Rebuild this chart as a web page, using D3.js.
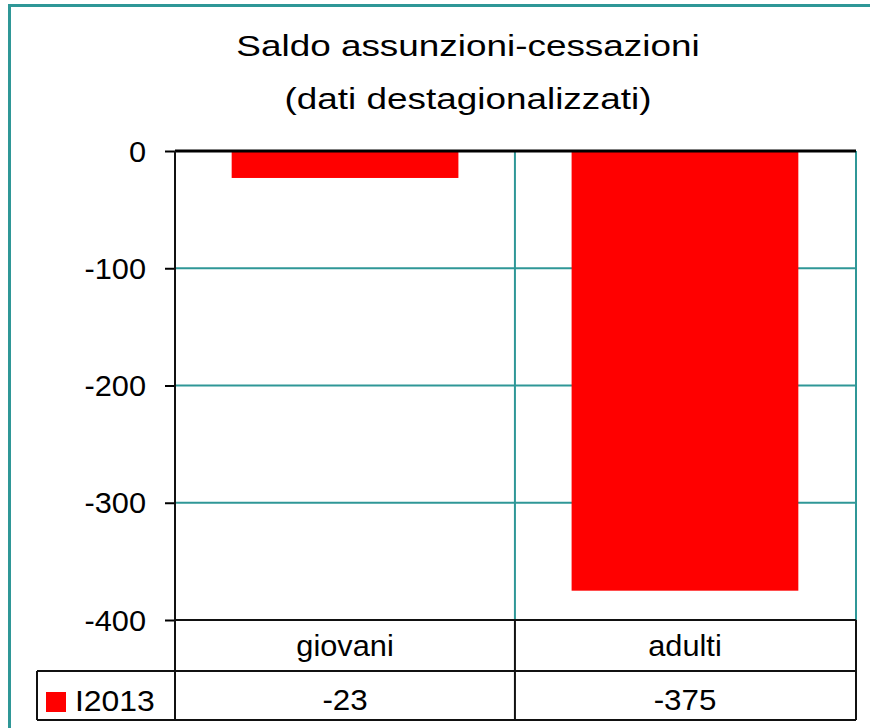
<!DOCTYPE html>
<html>
<head>
<meta charset="utf-8">
<script src="https://cdn.jsdelivr.net/npm/d3@7"></script>
<style>
body { margin: 0; background: #fff; }
text { font-family: "Liberation Sans", Arial, sans-serif; fill: #000; }
</style>
</head>
<body>
<script>
// dati
var categories = ["giovani", "adulti"];
var values = [-23, -375];
var seriesName = "I2013";
var yTicks = [0, -100, -200, -300, -400];
var titleLines = ["Saldo assunzioni-cessazioni", "(dati destagionalizzati)"];

var teal = "#2f9797";
var svg = d3.select("body").append("svg").attr("width", 870).attr("height", 728);

// testo allargato in orizzontale come nell'originale
function putText(sel, fx, fy, sx) {
  sel.attr("transform", (d, i) => "translate(" + fx(d, i) + "," + fy(d, i) + ") scale(" + sx + ",1)");
}

// bordo esterno
svg.append("rect").attr("x", 9.5).attr("y", 5.5).attr("width", 900).attr("height", 760)
  .attr("fill", "#fff").attr("stroke", teal).attr("stroke-width", 3);

var tt = svg.selectAll(".title").data(titleLines).enter().append("text")
  .attr("text-anchor", "middle").style("font-size", "30px").text(d => d);
putText(tt, () => 468, (d, i) => 56 + i * 53, 1.23);

var pLeft = 175, pRight = 855, pTop = 151, pBottom = 620;
var x = d3.scaleBand().domain(categories).range([pLeft, pRight]).paddingInner(0.333).paddingOuter(0.1667);
var y = d3.scaleLinear().domain([-400, 0]).range([pBottom, pTop]);
var step = x.step();

// griglia
svg.selectAll(".grid").data(yTicks.filter(d => d !== 0 && d !== -400)).enter().append("line")
  .attr("x1", pLeft).attr("x2", pRight).attr("y1", d => y(d)).attr("y2", d => y(d))
  .attr("stroke", teal).attr("stroke-width", 2);
svg.append("line").attr("x1", pLeft + step).attr("x2", pLeft + step).attr("y1", pTop).attr("y2", pBottom)
  .attr("stroke", teal).attr("stroke-width", 2);
svg.append("line").attr("x1", pRight + 1).attr("x2", pRight + 1).attr("y1", pTop).attr("y2", pBottom)
  .attr("stroke", teal).attr("stroke-width", 2);

// barre
svg.selectAll(".bar").data(values).enter().append("rect")
  .attr("x", (d, i) => x(categories[i])).attr("width", x.bandwidth())
  .attr("y", y(0)).attr("height", d => y(d) - y(0)).attr("fill", "#ff0000");

// asse y (trattino normale, non il segno meno unicode)
var yAxis = d3.axisLeft(y).tickValues(yTicks).tickSize(10).tickFormat(d => String(d));
var ga = svg.append("g").attr("transform", "translate(" + pLeft + ",0)").call(yAxis);
ga.select(".domain").remove();
ga.selectAll(".tick line").attr("stroke", "#000").attr("stroke-width", 2);
ga.selectAll(".tick text").attr("x", 0).attr("dy", "0.35em")
  .attr("transform", "translate(-29,0) scale(1.06,1)")
  .style("font-size", "29px").style("font-family", "Liberation Sans, Arial, sans-serif").attr("fill", "#000");

// linea dello zero
svg.append("line").attr("x1", pLeft).attr("x2", pRight + 1).attr("y1", pTop).attr("y2", pTop)
  .attr("stroke", "#000").attr("stroke-width", 3);

// tabella dati
var rowTop = 620, rowMid = 671, rowBot = 720, tabLeft = 37;
var lines = [
  [pLeft, rowTop, pRight + 1, rowTop],
  [tabLeft, rowMid, pRight + 1, rowMid],
  [tabLeft, rowBot, pRight + 1, rowBot],
  [tabLeft, rowMid, tabLeft, rowBot],
  [pLeft, pTop, pLeft, rowBot],
  [pLeft + step, rowTop, pLeft + step, rowBot],
  [pRight + 1, rowTop, pRight + 1, rowBot]
];
svg.selectAll(".tab").data(lines).enter().append("line")
  .attr("x1", d => d[0]).attr("y1", d => d[1]).attr("x2", d => d[2]).attr("y2", d => d[3])
  .attr("stroke", "#111").attr("stroke-width", 2);

var ct = svg.selectAll(".cat").data(categories).enter().append("text")
  .attr("text-anchor", "middle").style("font-size", "29px").text(d => d);
putText(ct, d => x(d) + x.bandwidth() / 2, () => 656, 1.06);
var vt = svg.selectAll(".val").data(values).enter().append("text")
  .attr("text-anchor", "middle").style("font-size", "29px").text(d => d);
putText(vt, (d, i) => x(categories[i]) + x.bandwidth() / 2, () => 710, 1.08);

svg.append("rect").attr("x", 46).attr("y", 692).attr("width", 20).attr("height", 20).attr("fill", "#ff0000");
var lt = svg.append("text").datum(seriesName).style("font-size", "29px").text(d => d);
putText(lt, () => 75, () => 711, 1.1);
</script>
</body>
</html>
